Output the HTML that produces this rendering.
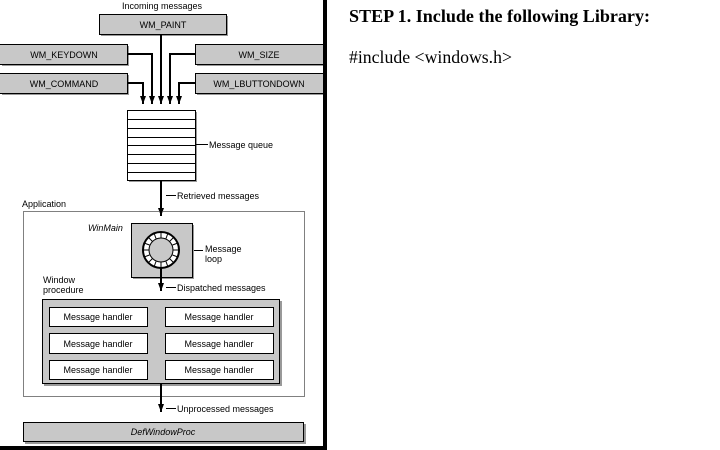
<!DOCTYPE html>
<html><head><meta charset="utf-8"><style>
html,body{margin:0;padding:0;background:#fff;width:720px;height:450px;overflow:hidden}
svg{position:absolute;left:0;top:0}
.t{font-family:"Liberation Sans",sans-serif;font-size:9px;fill:#000}
.r{font-family:"Liberation Serif",serif;font-size:18px;fill:#000}
</style></head><body>
<svg width="720" height="450" viewBox="0 0 720 450">
<defs>
<marker id="b" viewBox="0 0 6 8" markerWidth="6" markerHeight="8" refX="3" refY="8" orient="0" markerUnits="userSpaceOnUse"><path d="M0,0 L6,0 L3,8 z" fill="#000"/></marker>
</defs>
<rect x="323" y="0" width="4" height="449" fill="#000"/>
<rect x="0" y="446" width="327" height="4" fill="#000"/>
<text class="t" x="162" y="9" text-anchor="middle">Incoming messages</text>
<g fill="#999"><rect x="101" y="16" width="127" height="20"/><rect x="2" y="46" width="127" height="20"/><rect x="197" y="46" width="126" height="20"/><rect x="2" y="75" width="127" height="20"/><rect x="197" y="75" width="126" height="20"/></g>
<g fill="#c8c8c8" stroke="#000" stroke-width="1"><rect x="99.5" y="14.5" width="127" height="20"/><rect x="-1" y="44.5" width="128.5" height="20"/><rect x="195.5" y="44.5" width="128" height="20"/><rect x="-1" y="73.5" width="128.5" height="20"/><rect x="195.5" y="73.5" width="128" height="20"/></g>
<g class="t" text-anchor="middle" fill="#333"><text x="163" y="28">WM_PAINT</text><text x="64" y="58">WM_KEYDOWN</text><text x="259" y="58">WM_SIZE</text><text x="64" y="87">WM_COMMAND</text><text x="259" y="87">WM_LBUTTONDOWN</text></g>
<g fill="none" stroke="#000" stroke-width="2">
<path d="M127,54 H152 V104" marker-end="url(#b)"/>
<path d="M127,83 H143 V104" marker-end="url(#b)"/>
<path d="M161,35 V104" marker-end="url(#b)"/>
<path d="M195,54 H170 V104" marker-end="url(#b)"/>
<path d="M195,83 H179 V104" marker-end="url(#b)"/>
</g>
<rect x="129" y="112" width="68" height="70" fill="#999"/>
<rect x="127.5" y="110.5" width="68" height="70" fill="#fff" stroke="#000"/>
<g stroke="#000"><line x1="128" y1="119.5" x2="195" y2="119.5"/><line x1="128" y1="128.5" x2="195" y2="128.5"/><line x1="128" y1="137.5" x2="195" y2="137.5"/><line x1="128" y1="145.5" x2="195" y2="145.5"/><line x1="128" y1="154.5" x2="195" y2="154.5"/><line x1="128" y1="163.5" x2="195" y2="163.5"/><line x1="128" y1="172.5" x2="195" y2="172.5"/>
<line x1="196" y1="144.5" x2="208" y2="144.5"/><line x1="166" y1="195.5" x2="176" y2="195.5"/><line x1="183" y1="250.5" x2="203" y2="250.5"/><line x1="166" y1="287.5" x2="176" y2="287.5"/><line x1="166" y1="408.5" x2="176" y2="408.5"/></g>
<text class="t" x="209" y="148">Message queue</text>
<line x1="161" y1="181" x2="161" y2="216" stroke="#000" stroke-width="2" marker-end="url(#b)"/>
<text class="t" x="177" y="199">Retrieved messages</text>
<text class="t" x="22" y="207">Application</text>
<g fill="#000">
<rect x="23" y="211" width="282" height="1" fill="none"/>
</g>
<path d="M23.5,211.5 H304.5 V396.5 H23.5 Z" fill="none" stroke="#000" stroke-width="1" stroke-dasharray="1,1" shape-rendering="crispEdges"/>
<text class="t" x="88" y="231" font-style="italic" fill="#333">WinMain</text>
<rect x="133" y="225" width="61" height="54" fill="#999"/>
<rect x="131.5" y="223.5" width="61" height="54" fill="#c8c8c8" stroke="#000"/>
<circle cx="161" cy="250" r="18" fill="#fff" stroke="#000" stroke-width="2"/>
<circle cx="161" cy="250" r="12" fill="#c8c8c8" stroke="#000" stroke-width="1"/>
<g stroke="#000" stroke-width="1">
<line x1="161" y1="232" x2="161" y2="238"/><line x1="161" y1="262" x2="161" y2="268"/><line x1="143" y1="250" x2="149" y2="250"/><line x1="173" y1="250" x2="179" y2="250"/>
<line x1="148" y1="237" x2="152.5" y2="241.5"/><line x1="174" y1="237" x2="169.5" y2="241.5"/><line x1="148" y1="263" x2="152.5" y2="258.5"/><line x1="174" y1="263" x2="169.5" y2="258.5"/>
<line x1="154" y1="233" x2="156" y2="238.5"/><line x1="168" y1="233" x2="166" y2="238.5"/><line x1="154" y1="267" x2="156" y2="261.5"/><line x1="168" y1="267" x2="166" y2="261.5"/>
<line x1="144" y1="243" x2="149.5" y2="245"/><line x1="144" y1="257" x2="149.5" y2="255"/><line x1="178" y1="243" x2="172.5" y2="245"/><line x1="178" y1="257" x2="172.5" y2="255"/>
</g>
<text class="t" x="205" y="252">Message</text><text class="t" x="205" y="262">loop</text>
<line x1="161" y1="268" x2="161" y2="291" stroke="#000" stroke-width="2" marker-end="url(#b)"/>
<text class="t" x="177" y="291">Dispatched messages</text>
<text class="t" x="43" y="283">Window</text><text class="t" x="43" y="293">procedure</text>
<rect x="44" y="301" width="238" height="85" fill="#999"/>
<rect x="42.5" y="299.5" width="237" height="84" fill="#c8c8c8" stroke="#000"/>
<g fill="#fff" stroke="#000"><rect x="49.5" y="307.5" width="98" height="19"/><rect x="165.5" y="307.5" width="108" height="19"/><rect x="49.5" y="333.5" width="98" height="20"/><rect x="165.5" y="333.5" width="108" height="20"/><rect x="49.5" y="360.5" width="98" height="19"/><rect x="165.5" y="360.5" width="108" height="19"/></g>
<g class="t" text-anchor="middle"><text x="98" y="320">Message handler</text><text x="219" y="320">Message handler</text><text x="98" y="347">Message handler</text><text x="219" y="347">Message handler</text><text x="98" y="373">Message handler</text><text x="219" y="373">Message handler</text></g>
<line x1="161" y1="384" x2="161" y2="412" stroke="#000" stroke-width="2" marker-end="url(#b)"/>
<text class="t" x="177" y="412">Unprocessed messages</text>
<rect x="25" y="424" width="281" height="20" fill="#999"/>
<rect x="23.5" y="422.5" width="280" height="19" fill="#c8c8c8" stroke="#000"/>
<text class="t" x="163" y="435" text-anchor="middle" font-style="italic" fill="#333">DefWindowProc</text>
<text class="r" x="349" y="22" font-weight="bold" textLength="301" lengthAdjust="spacingAndGlyphs">STEP 1. Include the following Library:</text>
<text class="r" x="349" y="63" textLength="163" lengthAdjust="spacingAndGlyphs">#include &lt;windows.h&gt;</text>
</svg>
</body></html>
